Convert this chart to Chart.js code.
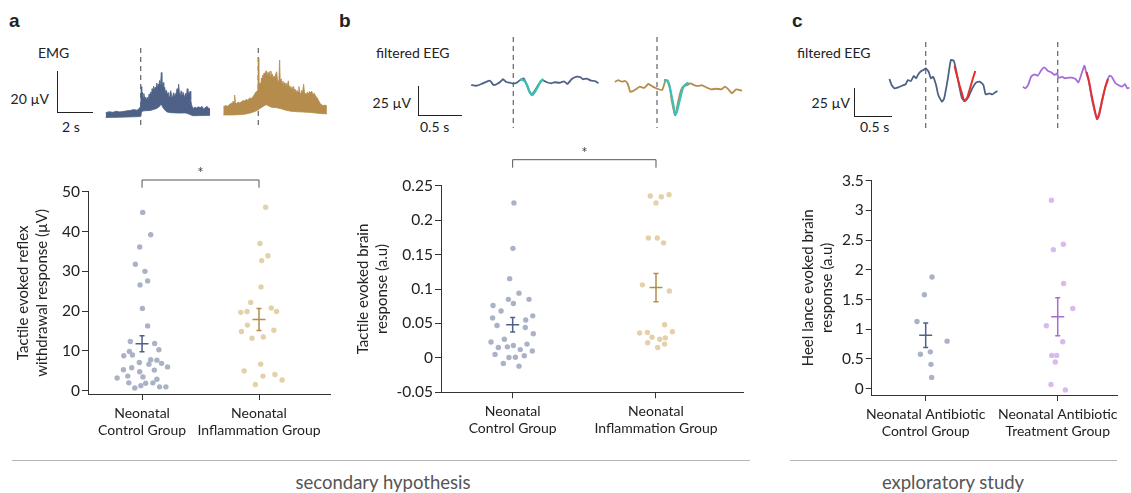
<!DOCTYPE html>
<html>
<head>
<meta charset="utf-8">
<script src="https://cdn.jsdelivr.net/npm/chart.js@4.4.1/dist/chart.umd.min.js"></script>
<style>
body{margin:0;background:#fff;width:1131px;height:493px;position:relative;overflow:hidden;font-family:Lato,"Open Sans",sans-serif;color:#222}
canvas{position:absolute}
.t{position:absolute;font-size:14px;white-space:nowrap;line-height:1}
.r{transform:translateX(-100%)}
.lt{position:absolute;font:bold 19px "Liberation Sans",Arial,sans-serif;line-height:1}
.bar{position:absolute;border-left:1.3px solid #222;border-bottom:1.3px solid #222}
.sep{position:absolute;height:0;border-top:1px solid #b5b5b5}
.foot{position:absolute;font-size:18.5px;color:#555;line-height:1;transform:translateX(-50%);white-space:nowrap}
</style>
</head>
<body>
<div class="lt" style="left:9px;top:11px">a</div>
<div class="lt" style="left:339px;top:11px">b</div>
<div class="lt" style="left:792px;top:11px">c</div>

<div class="t" style="left:38px;top:46px">EMG</div>
<div class="bar" style="left:57px;top:71px;width:35px;height:41px"></div>
<div class="t r" style="left:49px;top:92px">20 µV</div>
<div class="t" style="left:62px;top:120px">2 s</div>

<div class="t" style="left:376px;top:46px">filtered EEG</div>
<div class="bar" style="left:418px;top:86px;width:43px;height:29px"></div>
<div class="t r" style="left:411px;top:96px">25 µV</div>
<div class="t" style="left:420px;top:120px">0.5 s</div>

<div class="t" style="left:797px;top:46px">filtered EEG</div>
<div class="bar" style="left:854px;top:88px;width:37px;height:28px"></div>
<div class="t r" style="left:850px;top:96px">25 µV</div>
<div class="t" style="left:860px;top:120px">0.5 s</div>

<canvas id="emgC" width="116" height="88" style="left:100px;top:44px"></canvas>
<canvas id="emgI" width="116" height="88" style="left:218px;top:44px"></canvas>
<canvas id="eegBC" width="140" height="94" style="left:465px;top:36px"></canvas>
<canvas id="eegBI" width="142" height="94" style="left:606px;top:36px"></canvas>
<canvas id="eegCC" width="118" height="90" style="left:885px;top:40px"></canvas>
<canvas id="eegCT" width="116" height="90" style="left:1015px;top:40px"></canvas>

<canvas id="scA" width="340" height="300" style="left:0px;top:150px"></canvas>
<canvas id="scB" width="420" height="310" style="left:340px;top:140px"></canvas>
<canvas id="scC" width="351" height="300" style="left:780px;top:150px"></canvas>

<div class="sep" style="left:12px;top:460px;width:738px"></div>
<div class="sep" style="left:790px;top:460px;width:327px"></div>
<div class="foot" style="left:383px;top:473px">secondary hypothesis</div>
<div class="foot" style="left:953px;top:473px">exploratory study</div>

<script>
// ---- scatter data (a: µV, b/c: a.u), x = group position incl. jitter ----
var catsA = [["Neonatal", "Control Group"], ["Neonatal", "Inflammation Group"]];
var catsC = [["Neonatal Antibiotic", "Control Group"], ["Neonatal Antibiotic", "Treatment Group"]];

var ctrlAx = [1.006,1.074,0.98,0.943,1.025,1.048,0.983,1.003,1.048,0.90,1.108,1.144,0.892,0.844,0.918,1.074,1.127,0.977,1.059,1.167,1.218,0.912,0.841,0.98,1.105,0.878,1.008,0.787,1.127,0.887,1.031,1.093,0.99,0.938,1.15,1.204];
var ctrlAy = [44.8,39.2,36.1,31.8,30.0,27.6,26.6,20.7,16.3,12.4,11.9,10.3,9.9,8.8,9.0,7.8,7.7,7.1,6.7,6.9,6.0,5.8,5.3,4.8,5.2,3.7,3.5,3.2,2.9,2.0,1.9,2.0,1.3,0.7,1.0,1.0];
var inflAx = [2.057,2.008,2.076,2.023,2.017,1.929,1.844,1.898,2.105,2.15,1.901,1.85,1.94,2.037,2.127,2.014,1.873,2.034,2.136,1.969,2.198];
var inflAy = [46.1,37.0,33.9,32.7,26.1,22.2,19.7,19.9,20.8,19.9,16.5,14.9,13.2,13.5,15.2,6.7,5.0,3.7,4.1,1.6,2.7];
var meanA = [11.8, 17.9];
var semA = [2.0, 2.75];
var yTicksA = [0, 10, 20, 30, 40, 50];

var ctrlBx = [1.009,1.002,0.979,1.044,0.970,1.114,0.863,1.005,0.919,0.86,1.14,0.891,1.091,1.088,1.144,0.849,0.942,0.9,0.963,1.005,1.1,1.053,1.137,0.877,1.081,0.974,1.019,0.935,1.044];
var ctrlBy = [0.225,0.159,0.115,0.094,0.085,0.085,0.076,0.079,0.068,0.058,0.061,0.047,0.055,0.044,0.035,0.023,0.027,0.015,0.016,0.018,0.020,0.012,0.010,0.005,0.003,0.0005,0.001,-0.008,-0.012];
var inflBx = [1.96,2.037,2.091,2.0,1.947,2.009,2.053,1.905,2.093,2.06,1.886,1.94,2.114,1.972,2.065,2.026,1.942,2.06,2.012];
var inflBy = [0.235,0.234,0.237,0.225,0.174,0.174,0.167,0.106,0.097,0.048,0.036,0.037,0.038,0.030,0.029,0.027,0.022,0.020,0.015];
var meanB = [0.048, 0.102];
var semB = [0.0105, 0.0205];
var yTicksB = [-0.05, 0, 0.05, 0.1, 0.15, 0.2, 0.25];

var ctrlCx = [1.048,0.99,0.934,1.162,0.96,1.035,1.04,1.045];
var ctrlCy = [1.88,1.58,1.13,0.80,0.58,0.62,0.41,0.19];
var treatCx = [1.952,1.967,2.043,2.045,2.114,1.914,2.038,1.955,1.992,1.982,1.949,2.058];
var treatCy = [3.17,2.34,2.43,1.77,1.35,1.06,0.79,0.56,0.56,0.45,0.07,-0.02];
var meanC = [0.90, 1.21];
var semC = [0.205, 0.32];
var yTicksC = [0, 0.5, 1, 1.5, 2, 2.5, 3, 3.5];

// ---- example traces: [time from stimulus (s), amplitude (µV)] ----
// EMG: upper and lower edge of the rectified-looking band
var emgCtrlUpper = [[-2.0,2.1],[-1.8,2.6],[-1.6,2.3],[-1.4,2.8],[-1.2,2.5],[-1.0,2.7],[-0.8,3.0],[-0.6,3.2],[-0.4,3.6],[-0.2,3.3],[-0.1,4.2],[0.0,5.0],
  [0.03,14.8],[0.06,10.5],[0.1,12.0],[0.14,9.5],[0.18,11.5],[0.23,8.8],[0.28,9.8],[0.33,8.2],[0.38,9.6],[0.43,8.5],[0.48,11.2],[0.52,9.8],
  [0.56,12.2],[0.61,10.8],[0.65,13.8],[0.7,12.2],[0.74,15.0],[0.78,12.8],[0.82,14.5],[0.87,13.5],[0.92,16.6],[0.96,14.2],[1.0,16.0],[1.04,15.0],
  [1.08,17.8],[1.11,15.8],[1.14,17.0],[1.18,21.7],[1.21,16.0],[1.24,15.2],[1.28,16.8],[1.32,13.5],[1.37,14.5],[1.42,12.0],[1.47,13.0],[1.52,10.8],
  [1.57,12.0],[1.62,9.8],[1.67,11.5],[1.72,12.8],[1.77,10.0],[1.82,9.5],[1.87,11.8],[1.92,10.2],[1.96,11.5],[2.0,10.0],[2.04,12.5],[2.08,13.8],
  [2.12,11.0],[2.17,16.0],[2.21,12.0],[2.26,10.5],[2.31,12.8],[2.36,10.8],[2.41,12.2],[2.46,11.0],[2.51,9.5],[2.56,11.5],[2.61,10.5],[2.66,13.8],
  [2.7,10.5],[2.74,12.0],[2.78,11.0],[2.82,12.6],[2.86,8.5],[2.9,6.2],[2.95,5.0],[3.0,4.2],[3.1,4.8],[3.2,4.4],[3.3,5.0],[3.4,4.5],[3.5,5.2],
  [3.6,3.8],[3.7,4.8],[3.8,5.1],[3.9,4.0],[3.96,4.2]];
var emgCtrlLower = [[-2.0,-0.2],[-1.2,-0.1],[-0.8,0],[-0.4,0.1],[-0.1,0.2],[0.0,0.3],[0.04,2.6],[0.18,3.0],[0.38,3.1],[0.56,3.2],[0.74,3.7],
  [0.92,4.2],[1.08,5.2],[1.18,6.4],[1.24,5.0],[1.32,4.0],[1.42,3.0],[1.52,2.4],[1.72,2.1],[2.0,2.0],[2.26,1.9],[2.56,2.0],[2.74,1.5],
  [2.9,0.9],[3.0,0.6],[3.4,0.7],[3.96,0.8]];

var emgInflUpper = [[-2.0,5.0],[-1.85,5.6],[-1.75,5.2],[-1.62,6.3],[-1.5,6.8],[-1.45,7.8],[-1.38,7.0],[-1.35,10.7],[-1.31,7.2],[-1.26,6.5],
  [-1.15,7.3],[-1.05,6.8],[-0.97,7.5],[-0.85,8.0],[-0.75,7.8],[-0.69,8.6],[-0.6,8.2],[-0.5,9.3],[-0.4,9.0],[-0.3,10.0],[-0.22,11.0],
  [-0.17,11.8],[-0.1,12.5],[-0.04,13.0],[-0.02,13.2],[0.0,28.6],[0.03,15.0],[0.06,16.0],[0.1,16.6],[0.14,15.4],[0.18,19.0],[0.21,18.0],
  [0.25,20.5],[0.29,19.5],[0.33,21.5],[0.37,20.0],[0.41,22.0],[0.46,22.6],[0.5,20.5],[0.54,21.8],[0.59,20.8],[0.63,22.2],[0.68,19.8],
  [0.72,22.4],[0.76,20.0],[0.8,21.0],[0.85,18.8],[0.9,20.0],[0.95,18.5],[1.0,21.0],[1.05,22.1],[1.09,18.5],[1.13,17.5],[1.18,19.0],
  [1.22,27.8],[1.25,18.0],[1.31,18.6],[1.36,16.5],[1.41,17.5],[1.45,15.4],[1.5,16.8],[1.55,15.5],[1.58,16.6],[1.63,14.8],[1.68,16.5],
  [1.72,17.6],[1.77,14.2],[1.82,15.0],[1.87,13.8],[1.92,14.8],[1.97,13.0],[2.02,14.9],[2.07,12.5],[2.12,13.5],[2.17,11.8],[2.22,13.0],
  [2.27,12.2],[2.32,14.9],[2.37,12.0],[2.43,11.4],[2.48,13.0],[2.53,12.0],[2.59,16.0],[2.64,12.0],[2.69,11.5],[2.74,10.7],[2.8,12.2],
  [2.86,11.0],[2.92,12.5],[2.99,11.8],[3.05,12.6],[3.12,11.0],[3.2,11.6],[3.27,10.2],[3.33,9.8],[3.39,9.0],[3.46,7.8],[3.54,6.6],
  [3.62,5.9],[3.72,5.6],[3.82,5.8],[3.92,5.4]];
var emgInflLower = [[-2.0,1.0],[-1.45,1.0],[-0.97,1.2],[-0.69,1.5],[-0.40,2.1],[-0.17,2.8],[-0.02,3.4],[0.10,4.2],[0.21,4.8],[0.33,5.5],
  [0.46,6.0],[0.59,5.4],[0.74,4.8],[1.05,4.5],[1.31,4.0],[1.58,3.3],[1.87,2.8],[2.17,2.6],[2.59,2.4],[2.99,2.2],[3.39,1.8],[3.92,1.5]];

// EEG: recorded trace and fitted response template
var eegCtrlB = [[-0.49,-0.9],[-0.43,-1.5],[-0.37,0],[-0.31,2.0],[-0.27,2.8],[-0.23,-0.9],[-0.19,0],[-0.15,2.0],[-0.12,4.1],[-0.08,1.7],
  [-0.04,1.1],[0.00,0.3],[0.04,1.1],[0.08,3.4],[0.12,4.9],[0.15,0.6],[0.18,-5.2],[0.21,-9.2],[0.25,-5.8],[0.29,-0.9],[0.34,3.4],
  [0.39,1.5],[0.44,0.6],[0.48,1.5],[0.54,1.1],[0.59,2.3],[0.63,0],[0.68,4.3],[0.74,6.3],[0.78,5.8],[0.81,4.1],[0.85,4.6],[0.91,2.8],
  [0.95,2.6],[0.99,0.6]];
var eegCtrlBFit = [[0.08,3.9],[0.12,3.4],[0.16,-0.9],[0.19,-6.9],[0.22,-9.5],[0.25,-6.9],[0.29,-1.7],[0.32,2.6],[0.35,4.3]];

var eegInflB = [[-0.49,1.7],[-0.45,3.4],[-0.41,2.0],[-0.37,2.6],[-0.34,0],[-0.31,-6.9],[-0.26,-5.2],[-0.20,-2.3],[-0.15,-3.4],[-0.10,0],
  [-0.05,-2.3],[0.01,-4.3],[0.06,-5.2],[0.10,3.4],[0.12,2.8],[0.15,-2.3],[0.17,-13.8],[0.21,-26.7],[0.22,-25.3],[0.25,-13.8],[0.28,-5.2],
  [0.31,-1.7],[0.35,-0.9],[0.39,0.6],[0.43,-0.9],[0.48,-1.7],[0.52,-0.9],[0.57,-2.8],[0.63,-4.6],[0.69,-4.1],[0.75,-4.6],[0.79,-2.3],
  [0.83,-4.6],[0.87,-8.0],[0.92,-4.6],[0.99,-5.8]];
var eegInflBFit = [[0.08,3.4],[0.12,3.0],[0.15,-3.4],[0.19,-18.1],[0.21,-26.7],[0.23,-24.1],[0.27,-12.1],[0.30,-3.4],[0.34,0],[0.37,0.9]];

var eegCtrlC = [[-0.49,0.9],[-0.46,-4.5],[-0.42,-7.4],[-0.37,-6.5],[-0.32,-5.1],[-0.27,-3.8],[-0.24,0],[-0.20,-0.9],[-0.16,3.6],[-0.13,1.5],
  [-0.10,5.1],[-0.06,8.0],[-0.03,8.9],[0.00,10.4],[0.04,7.4],[0.07,1.5],[0.10,2.9],[0.14,-4.5],[0.17,-13.4],[0.22,-19.4],[0.25,-16.3],
  [0.30,1.5],[0.34,17.9],[0.38,17.0],[0.41,8.9],[0.45,-4.5],[0.49,-16.3],[0.53,-18.8],[0.58,-14.9],[0.63,-7.4],[0.68,-2.4],[0.73,-1.5],
  [0.78,-4.5],[0.81,-12.8],[0.86,-11.9],[0.90,-12.8],[0.94,-11.0],[0.97,-9.8]];
var eegCtrlCFit = [[0.39,12.5],[0.42,4.5],[0.46,-5.4],[0.50,-14.3],[0.52,-18.8],[0.56,-16.1],[0.60,-7.1],[0.64,1.8],[0.67,8.0]];

var eegTreatC = [[-0.47,-6.0],[-0.44,-7.4],[-0.40,-4.5],[-0.36,2.9],[-0.31,5.1],[-0.27,3.8],[-0.22,8.9],[-0.18,11.3],[-0.13,8.0],[-0.09,6.9],
  [-0.04,4.5],[-0.01,6.0],[0.01,2.1],[0.06,2.7],[0.10,1.5],[0.15,2.1],[0.19,2.1],[0.24,0.9],[0.28,-2.1],[0.32,5.1],[0.36,12.8],[0.38,8.0],
  [0.42,-1.5],[0.46,-16.3],[0.51,-30.6],[0.54,-34.8],[0.56,-31.3],[0.61,-16.3],[0.65,-4.5],[0.70,3.8],[0.73,2.9],[0.78,-2.9],[0.82,-4.5],
  [0.87,-6.0],[0.91,-3.8],[0.94,-7.4],[0.97,-6.9]];
var eegTreatCFit = [[0.39,7.1],[0.42,0],[0.46,-14.3],[0.50,-26.8],[0.53,-34.8],[0.56,-30.4],[0.60,-17.9],[0.64,-7.1],[0.68,0.9]];

// ---- colours ----
var blue = '#4e6187', blueLt = '#a9b2c6';
var tan = '#b58c4c', tanLt = '#e4d1aa';
var purple = '#a56dd4', purpleLt = '#d9baee';
var teal = '#3fbfb3', red = '#e2312a';

Chart.defaults.font.family = 'Lato, "Open Sans", sans-serif';
Chart.defaults.color = '#222';

function pts(xs, ys) { return xs.map(function (x, i) { return {x: x, y: ys[i]}; }); }
function pairs(p) { return p.map(function (q) { return {x: q[0], y: q[1]}; }); }

// trace in its own canvas; box = page [left, top, w, h], stim/base = page pixel of t=0 / 0 µV
function traceChart(id, box, stimX, baseY, pxPerS, pxPerUV, dash, datasets) {
  var stimPlugin = {
    id: 'stim',
    beforeDatasetsDraw: function (chart) {
      var ctx = chart.ctx, x = chart.scales.x.getPixelForValue(0);
      ctx.save();
      ctx.strokeStyle = '#6f6f6f';
      ctx.lineWidth = 1.3;
      ctx.setLineDash([5, 4]);
      ctx.beginPath();
      ctx.moveTo(x, dash[0] - box[1]);
      ctx.lineTo(x, dash[1] - box[1]);
      ctx.stroke();
      ctx.restore();
    }
  };
  return new Chart(document.getElementById(id), {
    type: 'line',
    data: {datasets: datasets},
    options: {
      responsive: false,
      animation: false,
      layout: {padding: 0},
      plugins: {legend: {display: false}, tooltip: {enabled: false}},
      elements: {point: {radius: 0}, line: {tension: 0.15}},
      scales: {
        x: {type: 'linear', display: false,
            min: (box[0] - stimX) / pxPerS, max: (box[0] + box[2] - stimX) / pxPerS},
        y: {display: false,
            min: (baseY - box[1] - box[3]) / pxPerUV, max: (baseY - box[1]) / pxPerUV}
      }
    },
    plugins: [stimPlugin]
  });
}

function band(up, lo, col) {
  return [
    {data: pairs(up), borderColor: col, backgroundColor: col, borderWidth: 0.8, fill: '+1', tension: 0},
    {data: pairs(lo), borderColor: col, borderWidth: 0.8, fill: false, tension: 0}
  ];
}
function trace(p, col, w) {
  return {data: pairs(p), borderColor: col, borderWidth: w, fill: false};
}

// first dataset is drawn on top, so the fitted template comes first
traceChart('emgC', [100, 44, 116, 88], 140.7, 117, 17.5, 2.05, [48, 128], band(emgCtrlUpper, emgCtrlLower, blue));
traceChart('emgI', [218, 44, 116, 88], 258.3, 117, 17.5, 2.05, [48, 128], band(emgInflUpper, emgInflLower, tan));
traceChart('eegBC', [465, 36, 140, 94], 513.3, 84, 86, 1.16, [37, 128],
  [trace(eegCtrlBFit, teal, 2.3), trace(eegCtrlB, blue, 1.8)]);
traceChart('eegBI', [606, 36, 142, 94], 657, 84, 86, 1.16, [37, 128],
  [trace(eegInflBFit, teal, 2.3), trace(eegInflB, tan, 1.8)]);
traceChart('eegCC', [885, 40, 118, 90], 925.7, 80, 74, 1.12, [42, 128],
  [trace(eegCtrlCFit, red, 2.0), trace(eegCtrlC, blue, 1.8)]);
traceChart('eegCT', [1015, 40, 116, 90], 1057.7, 80, 74, 1.12, [42, 128],
  [trace(eegTreatCFit, red, 2.0), trace(eegTreatC, purple, 1.8)]);

// group scatter with mean ± SEM and optional significance bracket
function groupChart(id, c) {
  var meanPlugin = {
    id: 'meanSem',
    afterDatasetsDraw: function (chart) {
      var ctx = chart.ctx, x = chart.scales.x, y = chart.scales.y;
      ctx.save();
      ctx.lineWidth = 1.5;
      c.mean.forEach(function (m, i) {
        var cx = x.getPixelForValue(i + 1);
        var my = y.getPixelForValue(m), lo = y.getPixelForValue(m - c.sem[i]), hi = y.getPixelForValue(m + c.sem[i]);
        ctx.strokeStyle = c.lineCols[i];
        ctx.beginPath();
        ctx.moveTo(cx, lo); ctx.lineTo(cx, hi);
        ctx.moveTo(cx - 6.5, my); ctx.lineTo(cx + 6.5, my);
        ctx.moveTo(cx - 2.5, lo); ctx.lineTo(cx + 2.5, lo);
        ctx.moveTo(cx - 2.5, hi); ctx.lineTo(cx + 2.5, hi);
        ctx.stroke();
      });
      if (c.bracket) {
        var top = chart.chartArea.top, x1 = x.getPixelForValue(1), x2 = x.getPixelForValue(2);
        var by = top - c.bracket[0], leg = top - c.bracket[1];
        ctx.strokeStyle = '#555';
        ctx.lineWidth = 1;
        ctx.beginPath();
        ctx.moveTo(x1, leg); ctx.lineTo(x1, by); ctx.lineTo(x2, by); ctx.lineTo(x2, leg);
        ctx.stroke();
        ctx.fillStyle = '#444';
        ctx.font = '15px Lato, sans-serif';
        ctx.textAlign = 'center';
        ctx.textBaseline = 'middle';
        ctx.fillText('*', (x1 + x2) / 2, by - 7);
      }
      ctx.restore();
    }
  };
  var axisCol = '#333';
  return new Chart(document.getElementById(id), {
    type: 'scatter',
    data: {datasets: c.groups.map(function (g) {
      return {data: g.data, backgroundColor: g.col, borderWidth: 0, pointRadius: 2.7, pointHoverRadius: 2.7};
    })},
    options: {
      responsive: false,
      animation: false,
      layout: {padding: c.pad},
      plugins: {legend: {display: false}, tooltip: {enabled: false}},
      scales: {
        x: {
          type: 'linear', min: c.xMin, max: c.xMax,
          afterBuildTicks: function (s) { s.ticks = c.cats.map(function (_, i) { return {value: i + 1}; }); },
          afterFit: function (s) { s.height = c.xH; },
          ticks: {autoSkip: false, maxRotation: 0, padding: 5, color: '#222', font: {size: 14},
                  callback: function (v) { return c.cats[Math.round(v) - 1]; }},
          grid: {drawOnChartArea: false, tickLength: 6, color: axisCol},
          border: {color: axisCol, width: 1}
        },
        y: {
          min: c.yMin, max: c.yMax,
          afterBuildTicks: function (s) { s.ticks = c.yTicks.map(function (v) { return {value: v}; }); },
          afterFit: function (s) { s.width = c.yW; },
          ticks: {padding: 2, color: '#222', font: {size: 15.5}, callback: function (v) { return String(v); }},
          title: {display: true, text: c.title, color: '#222', font: {size: 15, lineHeight: 1.3}, padding: {top: c.titlePad, bottom: 0}},
          grid: {drawOnChartArea: false, tickLength: 6, color: axisCol},
          border: {color: axisCol, width: 1}
        }
      }
    },
    plugins: [meanPlugin]
  });
}

groupChart('scA', {
  groups: [{data: pts(ctrlAx, ctrlAy), col: blueLt}, {data: pts(inflAx, inflAy), col: tanLt}],
  mean: meanA, sem: semA, lineCols: [blue, tan], cats: catsA, yTicks: yTicksA,
  yMin: -0.8, yMax: 50, xMin: 0.538, xMax: 2.607,
  title: ['Tactile evoked reflex', 'withdrawal response (µV)'], titlePad: 13,
  yW: 88, xH: 56, pad: {top: 41.7, right: 10, left: 0, bottom: 0}, bracket: [11.7, 4]
});
groupChart('scB', {
  groups: [{data: pts(ctrlBx, ctrlBy), col: blueLt}, {data: pts(inflBx, inflBy), col: tanLt}],
  mean: meanB, sem: semB, lineCols: [blue, tan], cats: catsA, yTicks: yTicksB,
  yMin: -0.05, yMax: 0.25, xMin: 0.5, xMax: 2.607,
  title: ['Tactile evoked brain', 'response (a.u)'], titlePad: 13,
  yW: 101, xH: 57.7, pad: {top: 45.7, right: 17, left: 0, bottom: 0}, bracket: [26, 18]
});
groupChart('scC', {
  groups: [{data: pts(ctrlCx, ctrlCy), col: blueLt}, {data: pts(treatCx, treatCy), col: purpleLt}],
  mean: meanC, sem: semC, lineCols: [blue, purple], cats: catsC, yTicks: yTicksC,
  yMin: -0.106, yMax: 3.5, xMin: 0.591, xMax: 2.449,
  title: ['Heel lance evoked brain', 'response (a.u)'], titlePad: 18,
  yW: 91.7, xH: 55, pad: {top: 30.7, right: 14, left: 0, bottom: 0}, bracket: null
});
</script>
</body>
</html>
